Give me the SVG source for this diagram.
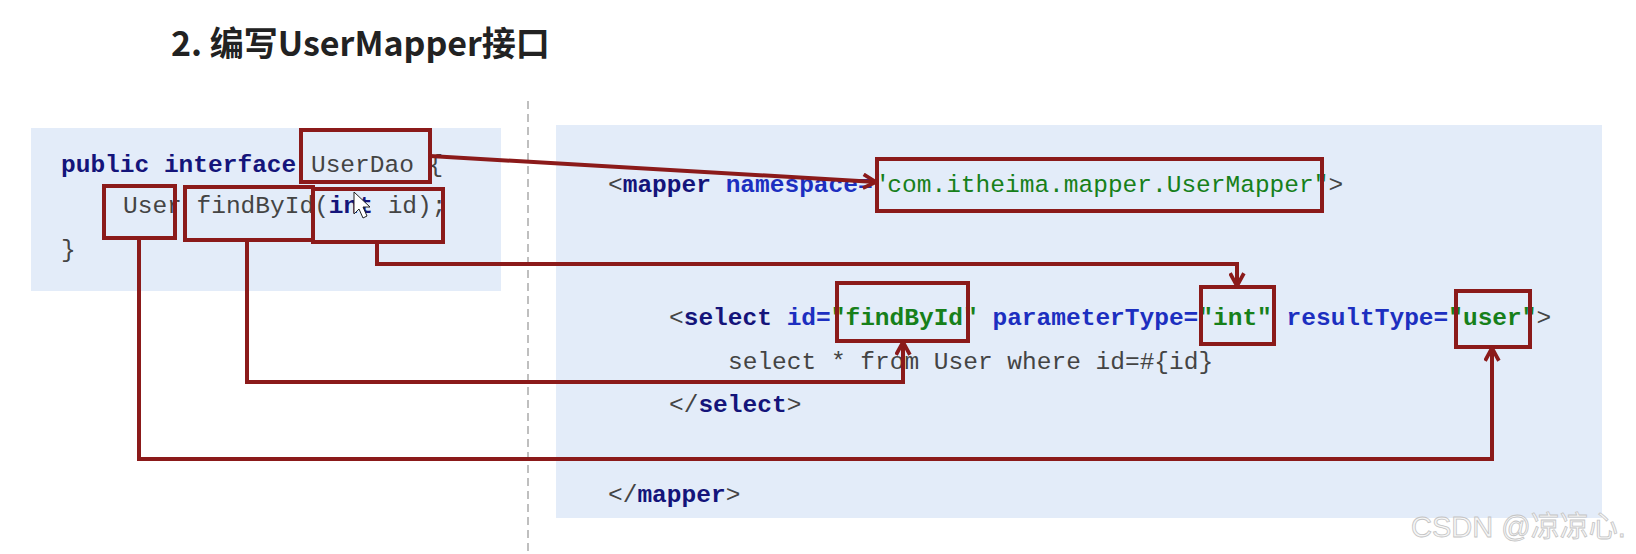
<svg xmlns="http://www.w3.org/2000/svg" width="1636" height="554" viewBox="0 0 1636 554">
<style>
.bg{fill:#e3ecf9}
.code{font-family:"Liberation Mono","Courier New",monospace;font-size:24.5px;fill:#444}
.kw{font-weight:bold;fill:#14147a}
.at{font-weight:bold;fill:#1c2fc0}
.st{fill:#17801a}
.stb{fill:#17801a;font-weight:bold}
.box{fill:none;stroke:#8b1a1a;stroke-width:4}
.con{fill:none;stroke:#8b1a1a;stroke-width:4;stroke-linejoin:miter}
.title{font-family:"Noto Sans CJK SC","Noto Sans",sans-serif;font-size:34px;font-weight:bold;fill:#222}
.wm{font-family:"Liberation Sans","Noto Sans CJK SC",sans-serif;font-size:29px;fill:#f6f6f6;stroke:#c4c4c4;stroke-width:0.8}
</style>
<defs>
<marker id="arr" viewBox="0 0 16 16" refX="14" refY="8" markerWidth="17" markerHeight="17" markerUnits="userSpaceOnUse" orient="auto">
<path d="M2,1.5 L14,8 L2,14.5" fill="none" stroke="#8b1a1a" stroke-width="3.5"/>
</marker>
</defs>
<rect width="1636" height="554" fill="#ffffff"/>
<g id="title"><text class="title" x="171" y="56">2. 编写UserMapper接口</text></g>
<line x1="528" y1="101" x2="528" y2="554" stroke="#aaaaaa" stroke-width="1.5" stroke-dasharray="8 5"/>
<g id="left-panel">
<rect class="bg" x="31" y="128" width="470" height="163"/>
<text class="code" x="61" y="172"><tspan class="kw">public interface</tspan> UserDao {</text>
<text class="code" x="123" y="213" xml:space="preserve">User findById(<tspan class="kw">int</tspan> id);</text>
<text class="code" x="61" y="257">}</text>
</g>
<g id="right-panel">
<rect class="bg" x="556" y="125" width="1046" height="393"/>
<text class="code" x="608" y="192" xml:space="preserve">&lt;<tspan class="kw">mapper</tspan> <tspan class="at">namespace=</tspan><tspan class="st">"com.itheima.mapper.UserMapper"</tspan>&gt;</text>
<text class="code" x="669" y="325" xml:space="preserve">&lt;<tspan class="kw">select</tspan> <tspan class="at">id=</tspan><tspan class="stb">"findById"</tspan> <tspan class="at">parameterType=</tspan><tspan class="stb">"int"</tspan> <tspan class="at">resultType=</tspan><tspan class="stb">"user"</tspan>&gt;</text>
<text class="code" x="728" y="369">select * from User where id=#{id}</text>
<text class="code" x="669" y="412">&lt;/<tspan class="kw">select</tspan>&gt;</text>
<text class="code" x="608" y="502">&lt;/<tspan class="kw">mapper</tspan>&gt;</text>
</g>
<g id="box-userdao"><rect class="box" x="301" y="130" width="129" height="52"/></g>
<g id="box-user"><rect class="box" x="104" y="186" width="71" height="52"/></g>
<g id="box-findbyid"><rect class="box" x="185" y="187" width="128" height="53"/></g>
<g id="box-int"><rect class="box" x="313" y="189" width="130" height="53"/></g>
<g id="box-namespace"><rect class="box" x="877" y="159" width="445" height="52"/></g>
<g id="box-findbyid-xml"><rect class="box" x="837" y="283" width="131" height="58"/></g>
<g id="box-int-xml"><rect class="box" x="1201" y="287" width="73" height="57"/></g>
<g id="box-user-xml"><rect class="box" x="1456" y="291" width="74" height="56"/></g>
<g id="connectors">
<path class="con" d="M430,156 L876,182" marker-end="url(#arr)"/>
<path class="con" d="M377,242 L377,264 L1237,264 L1237,286" marker-end="url(#arr)"/>
<path class="con" d="M247,240 L247,382 L903,382 L903,342" marker-end="url(#arr)"/>
<path class="con" d="M139,238 L139,459 L1492,459 L1492,348" marker-end="url(#arr)"/>
</g>
<g id="cursor"><path d="M354,192 L354,214 L359,209 L363,218 L367,216 L363,207 L370,207 Z" fill="#ffffff" stroke="#222" stroke-width="1"/></g>
<g id="watermark"><text class="wm" x="1411" y="537">CSDN @凉凉心.</text></g>
</svg>
